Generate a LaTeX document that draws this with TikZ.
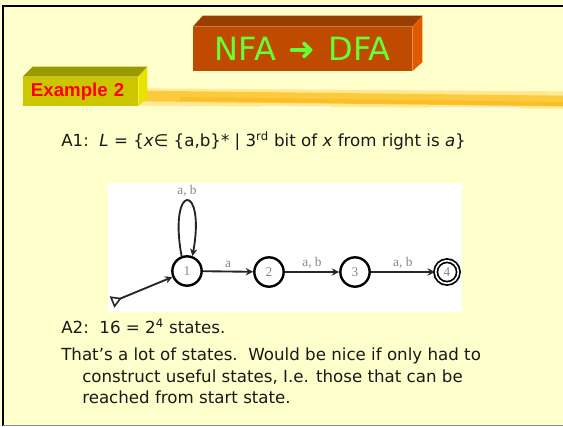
\documentclass[tikz,border=0pt]{standalone}
\usepackage{fontspec}
\setmainfont{DejaVu Sans}
\newfontfamily\boxfont{Liberation Sans}
\newfontfamily\scanfont{Liberation Serif}
\usetikzlibrary{arrows.meta,positioning,calc}
\definecolor{slidecream}{RGB}{255,255,204}
\definecolor{titlefront}{RGB}{192,74,0}
\definecolor{titletop}{RGB}{153,61,0}
\definecolor{titleside}{RGB}{224,90,0}
\definecolor{titlegreen}{RGB}{102,255,51}
\definecolor{examplefront}{RGB}{204,198,0}
\definecolor{exampletop}{RGB}{153,153,0}
\definecolor{exampleside}{RGB}{230,228,0}
\definecolor{brushgold}{RGB}{250,196,40}
\definecolor{brushlight}{RGB}{255,225,120}
\definecolor{scangray}{RGB}{135,135,135}
\definecolor{bodytext}{RGB}{25,25,25}
\tikzset{titlebox/.style={rectangle,fill=titlefront,text=titlegreen,inner sep=0pt,minimum width=164.25pt,minimum height=33pt,font=\fontsize{24}{27}\selectfont},
  examplebox/.style={rectangle,fill=examplefront,text=red,inner xsep=6pt,inner ysep=0pt,text width=74.25pt,align=left,minimum height=21.75pt,font=\boxfont\bfseries\fontsize{14}{16}\selectfont},
  bodyline/.style={anchor=base west,inner sep=0pt,text=bodytext,font=\fontsize{12.5}{15}\selectfont},
  statenode/.style={circle,draw=black,line width=1.8pt,fill=white,minimum size=22pt,inner sep=0pt,text=scangray,font=\scanfont\fontsize{10}{11}\selectfont},
  acceptnode/.style={statenode,line width=1.3pt,double=white,double distance=1.2pt,minimum size=17pt},
  transition/.style={draw=black!85,line width=1.4pt,-{Stealth[length=5.5pt,width=5.5pt]}},
  initarrow/.style={draw=black!85,line width=1.4pt,{Triangle[open,reversed,length=8pt,width=9pt,line width=1.2pt]}-{Stealth[length=5.5pt,width=5.5pt]}},
    edge-label/.style={inner sep=2pt,text=scangray,font=\scanfont\fontsize{10}{11}\selectfont}}

\begin{document}
\begin{tikzpicture}[x=0.75pt,y=-0.75pt]

\useasboundingbox (0,0) rectangle (563,426);
\fill[slidecream] (0,0) rectangle (563,426);
\draw[line width=1.6pt] (3,426) -- (3,6) -- (563,6);
\draw[black!45,line width=1pt] (3,425.5) -- (563,425.5);

% brush stroke under the heading
\draw[brushlight,line width=13pt,opacity=0.7] (140,97) -- (563,100);
\draw[brushgold,line width=8pt,opacity=0.8] (140,96) -- (563,101);
\draw[brushgold!80!orange,line width=3pt,opacity=0.6] (180,99) -- (563,104);
\draw[white,line width=1pt,opacity=0.6] (260,107) -- (330,107);
\draw[white,line width=1pt,opacity=0.6] (430,108) -- (520,108);

% title block
\node[titlebox] (title) at (302.5,49) {NFA\hspace{2pt} ➜\hspace{2pt} DFA};
\fill[titletop] (title.north west) -- ++(10,-11) -- ($(title.north east)+(10,-11)$) -- (title.north east) -- cycle;
\fill[titleside] (title.north east) -- ++(10,-11) -- ($(title.south east)+(10,-9)$) -- (title.south east) -- cycle;

% example block
\node[examplebox] (example) at (80.5,91.5) {Example 2};
\fill[exampletop] (example.north west) -- ++(10,-10) -- ($(example.north east)+(9,-10)$) -- (example.north east) -- cycle;
\fill[exampleside] (example.north east) -- ++(9,-10) -- ($(example.south east)+(9,-9)$) -- (example.south east) -- cycle;

\node[bodyline] (aone) at (61,146) {A1:\ \ \textit{L} = \{\textit{x}∈ \{a,b\}* \textbar{} 3\textsuperscript{rd} bit of \textit{x} from right is \textit{a}\}};

% automaton
\fill[white] (108,183) rectangle (462,312);
\node[statenode] (q1) at (187,271) {1};
\node[statenode] (q2) at (269,272) {2};
\node[statenode] (q3) at (355,272) {3};
\node[acceptnode] (q4) at (447,272) {4};
\coordinate (start) at (112,302);

\draw[initarrow] (start) -- (q1);
\draw[transition] (q1.110) .. controls (168,182) and (206,182) .. (q1.70) node[edge-label,pos=0.5,above] {a, b};
\draw[transition] (q1) -- node[edge-label,above] {a} (q2);
\draw[transition] (q2) -- node[edge-label,above] {a, b} (q3);
\draw[transition] (q3) -- node[edge-label,above] {a, b} (q4);

\node[bodyline] (atwo) at (61,333) {A2:\ \ 16 = 2\textsuperscript{4} states.};
\node[bodyline] (remark1) at (61,360) {That's a lot of states.\ \ Would be nice if only had to};
\node[bodyline] (remark2) at (82,382) {construct useful states, I.e. those that can be};
\node[bodyline] (remark3) at (82,403) {reached from start state.};

\end{tikzpicture}
\end{document}
